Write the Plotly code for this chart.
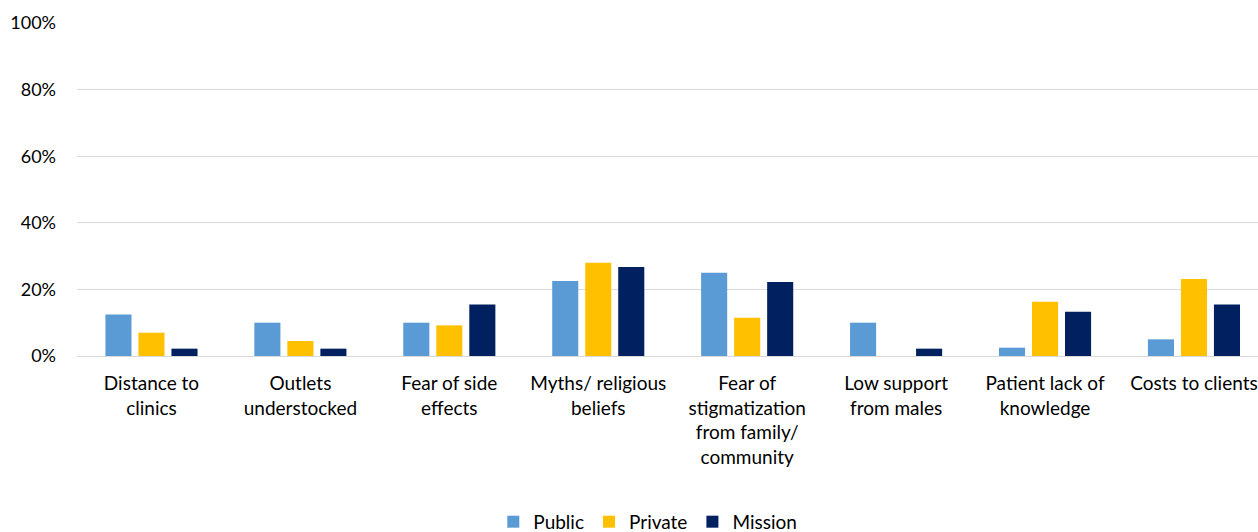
import plotly.graph_objects as go

categories = [
    "Distance to<br>clinics",
    "Outlets<br>understocked",
    "Fear of side<br>effects",
    "Myths/ religious<br>beliefs",
    "Fear of<br>stigmatization<br>from family/<br>community",
    "Low support<br>from males",
    "Patient lack of<br>knowledge",
    "Costs to clients",
]
public = [12.5, 10.0, 10.0, 22.5, 25.0, 10.0, 2.5, 5.0]
private = [7.0, 4.5, 9.2, 28.0, 11.5, 0.0, 16.3, 23.1]
mission = [2.2, 2.2, 15.5, 26.7, 22.2, 2.2, 13.3, 15.5]
y_ticks = [0, 20, 40, 60, 80, 100]
y_tick_text = ["0%", "20%", "40%", "60%", "80%", "100%"]

colors = {"Public": "#5B9BD5", "Private": "#FFC000", "Mission": "#002060"}
font_family = "Lato, Calibri, Arial, sans-serif"

fig = go.Figure()
for name, vals in [("Public", public), ("Private", private), ("Mission", mission)]:
    fig.add_trace(go.Bar(
        name=name, x=list(range(len(categories))), y=vals,
        marker=dict(color=colors[name], line=dict(width=0)),
        hoverinfo="y+name",
    ))

fig.update_layout(
    width=1258, height=532,
    margin=dict(l=76.5, r=0, t=22.7, b=176, autoexpand=False),
    paper_bgcolor="white", plot_bgcolor="white",
    barmode="group", bargap=0.335, bargroupgap=0.21,
    font=dict(family=font_family, size=19, color="#000000"),
    legend=dict(orientation="h", x=0.3525, xanchor="left", y=-0.498, yanchor="middle",
                font=dict(size=19), traceorder="normal"),
    showlegend=True,
)
fig.update_xaxes(
    tickmode="array", tickvals=list(range(len(categories))), ticktext=categories,
    range=[-0.5, 7.43], showgrid=False, zeroline=False, automargin=False,
    showline=True, linecolor="#D9D9D9", linewidth=1.3,
    ticks="", tickangle=0, ticklabelstandoff=10,
    tickfont=dict(size=19),
)
fig.update_yaxes(
    range=[0, 100], tickmode="array", tickvals=y_ticks, ticktext=y_tick_text,
    showgrid=True, gridcolor="#D9D9D9", gridwidth=1.3, automargin=False,
    zeroline=False, showline=False, ticks="",
    ticklabelstandoff=20, tickfont=dict(size=18),
)

fig.write_html(
    "out.html",
    config={"displayModeBar": False},
    post_script="document.body.style.margin='0';document.body.style.overflow='hidden';",
)
